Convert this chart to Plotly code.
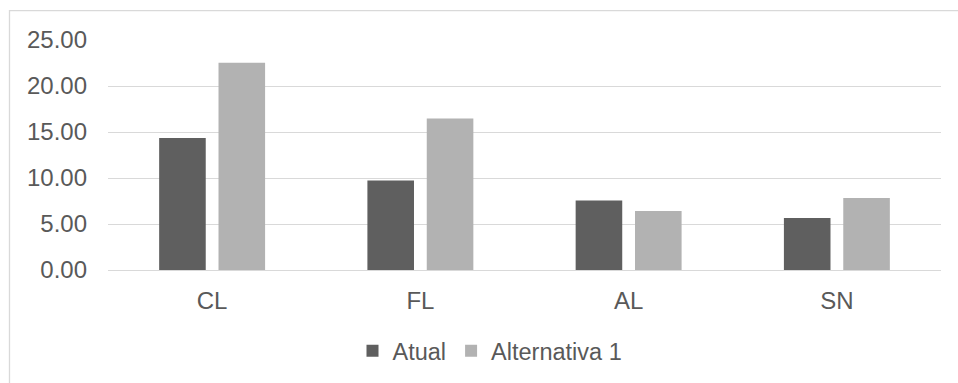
import plotly.graph_objects as go

# Categories and series values
categories = ["CL", "FL", "AL", "SN"]
atual = [14.34, 9.72, 7.56, 5.66]
alternativa_1 = [22.54, 16.46, 6.42, 7.82]
y_ticks = [0, 5, 10, 15, 20, 25]
y_tick_labels = ["0.00", "5.00", "10.00", "15.00", "20.00", "25.00"]

W, H = 958, 383
ML, MR, MT, MB = 108, 17, 40, 112
plot_w = W - ML - MR
plot_h = H - MT - MB

text_color = "#595959"
grid_color = "#d9d9d9"
font_family = "Liberation Sans, Arial, sans-serif"

fig = go.Figure()
fig.add_trace(go.Bar(name="Atual", x=categories, y=atual,
                     marker=dict(color="#5f5f5f", line=dict(width=0))))
fig.add_trace(go.Bar(name="Alternativa 1", x=categories, y=alternativa_1,
                     marker=dict(color="#b2b2b2", line=dict(width=0))))

# Outer chart frame (extends past the right/bottom edge of the page)
def px_to_paper_x(px):
    return (px - ML) / plot_w

def px_to_paper_y(py):
    return (H - MB - py) / plot_h

fig.add_shape(type="rect", xref="paper", yref="paper",
              x0=px_to_paper_x(9.5), x1=px_to_paper_x(W + 20),
              y0=px_to_paper_y(H + 20), y1=px_to_paper_y(10.5),
              line=dict(color=grid_color, width=1.3), fillcolor="rgba(0,0,0,0)",
              layer="below")

fig.update_layout(
    width=W, height=H,
    margin=dict(l=ML, r=MR, t=MT, b=MB, pad=0),
    paper_bgcolor="white", plot_bgcolor="white",
    barmode="group", bargap=0.43, bargroupgap=0.215,
    font=dict(family=font_family, size=24, color=text_color),
    showlegend=True,
    legend=dict(orientation="h", x=px_to_paper_x(490), xanchor="center",
                y=px_to_paper_y(351), yanchor="middle",
                font=dict(size=23.5, color=text_color),
                itemwidth=30, traceorder="normal", bgcolor="rgba(0,0,0,0)"),
    xaxis=dict(showgrid=False, showline=False, zeroline=False, ticks="",
               ticklabelstandoff=14,
               tickfont=dict(size=24, color=text_color)),
    yaxis=dict(range=[0, 25], tickvals=y_ticks, ticktext=y_tick_labels,
               showgrid=True, gridcolor=grid_color, gridwidth=1.3,
               zeroline=True, zerolinecolor=grid_color, zerolinewidth=1.3,
               showline=False, ticks="", ticklabelstandoff=20,
               tickfont=dict(size=24, color=text_color)),
)

fig.write_html("out.html")
